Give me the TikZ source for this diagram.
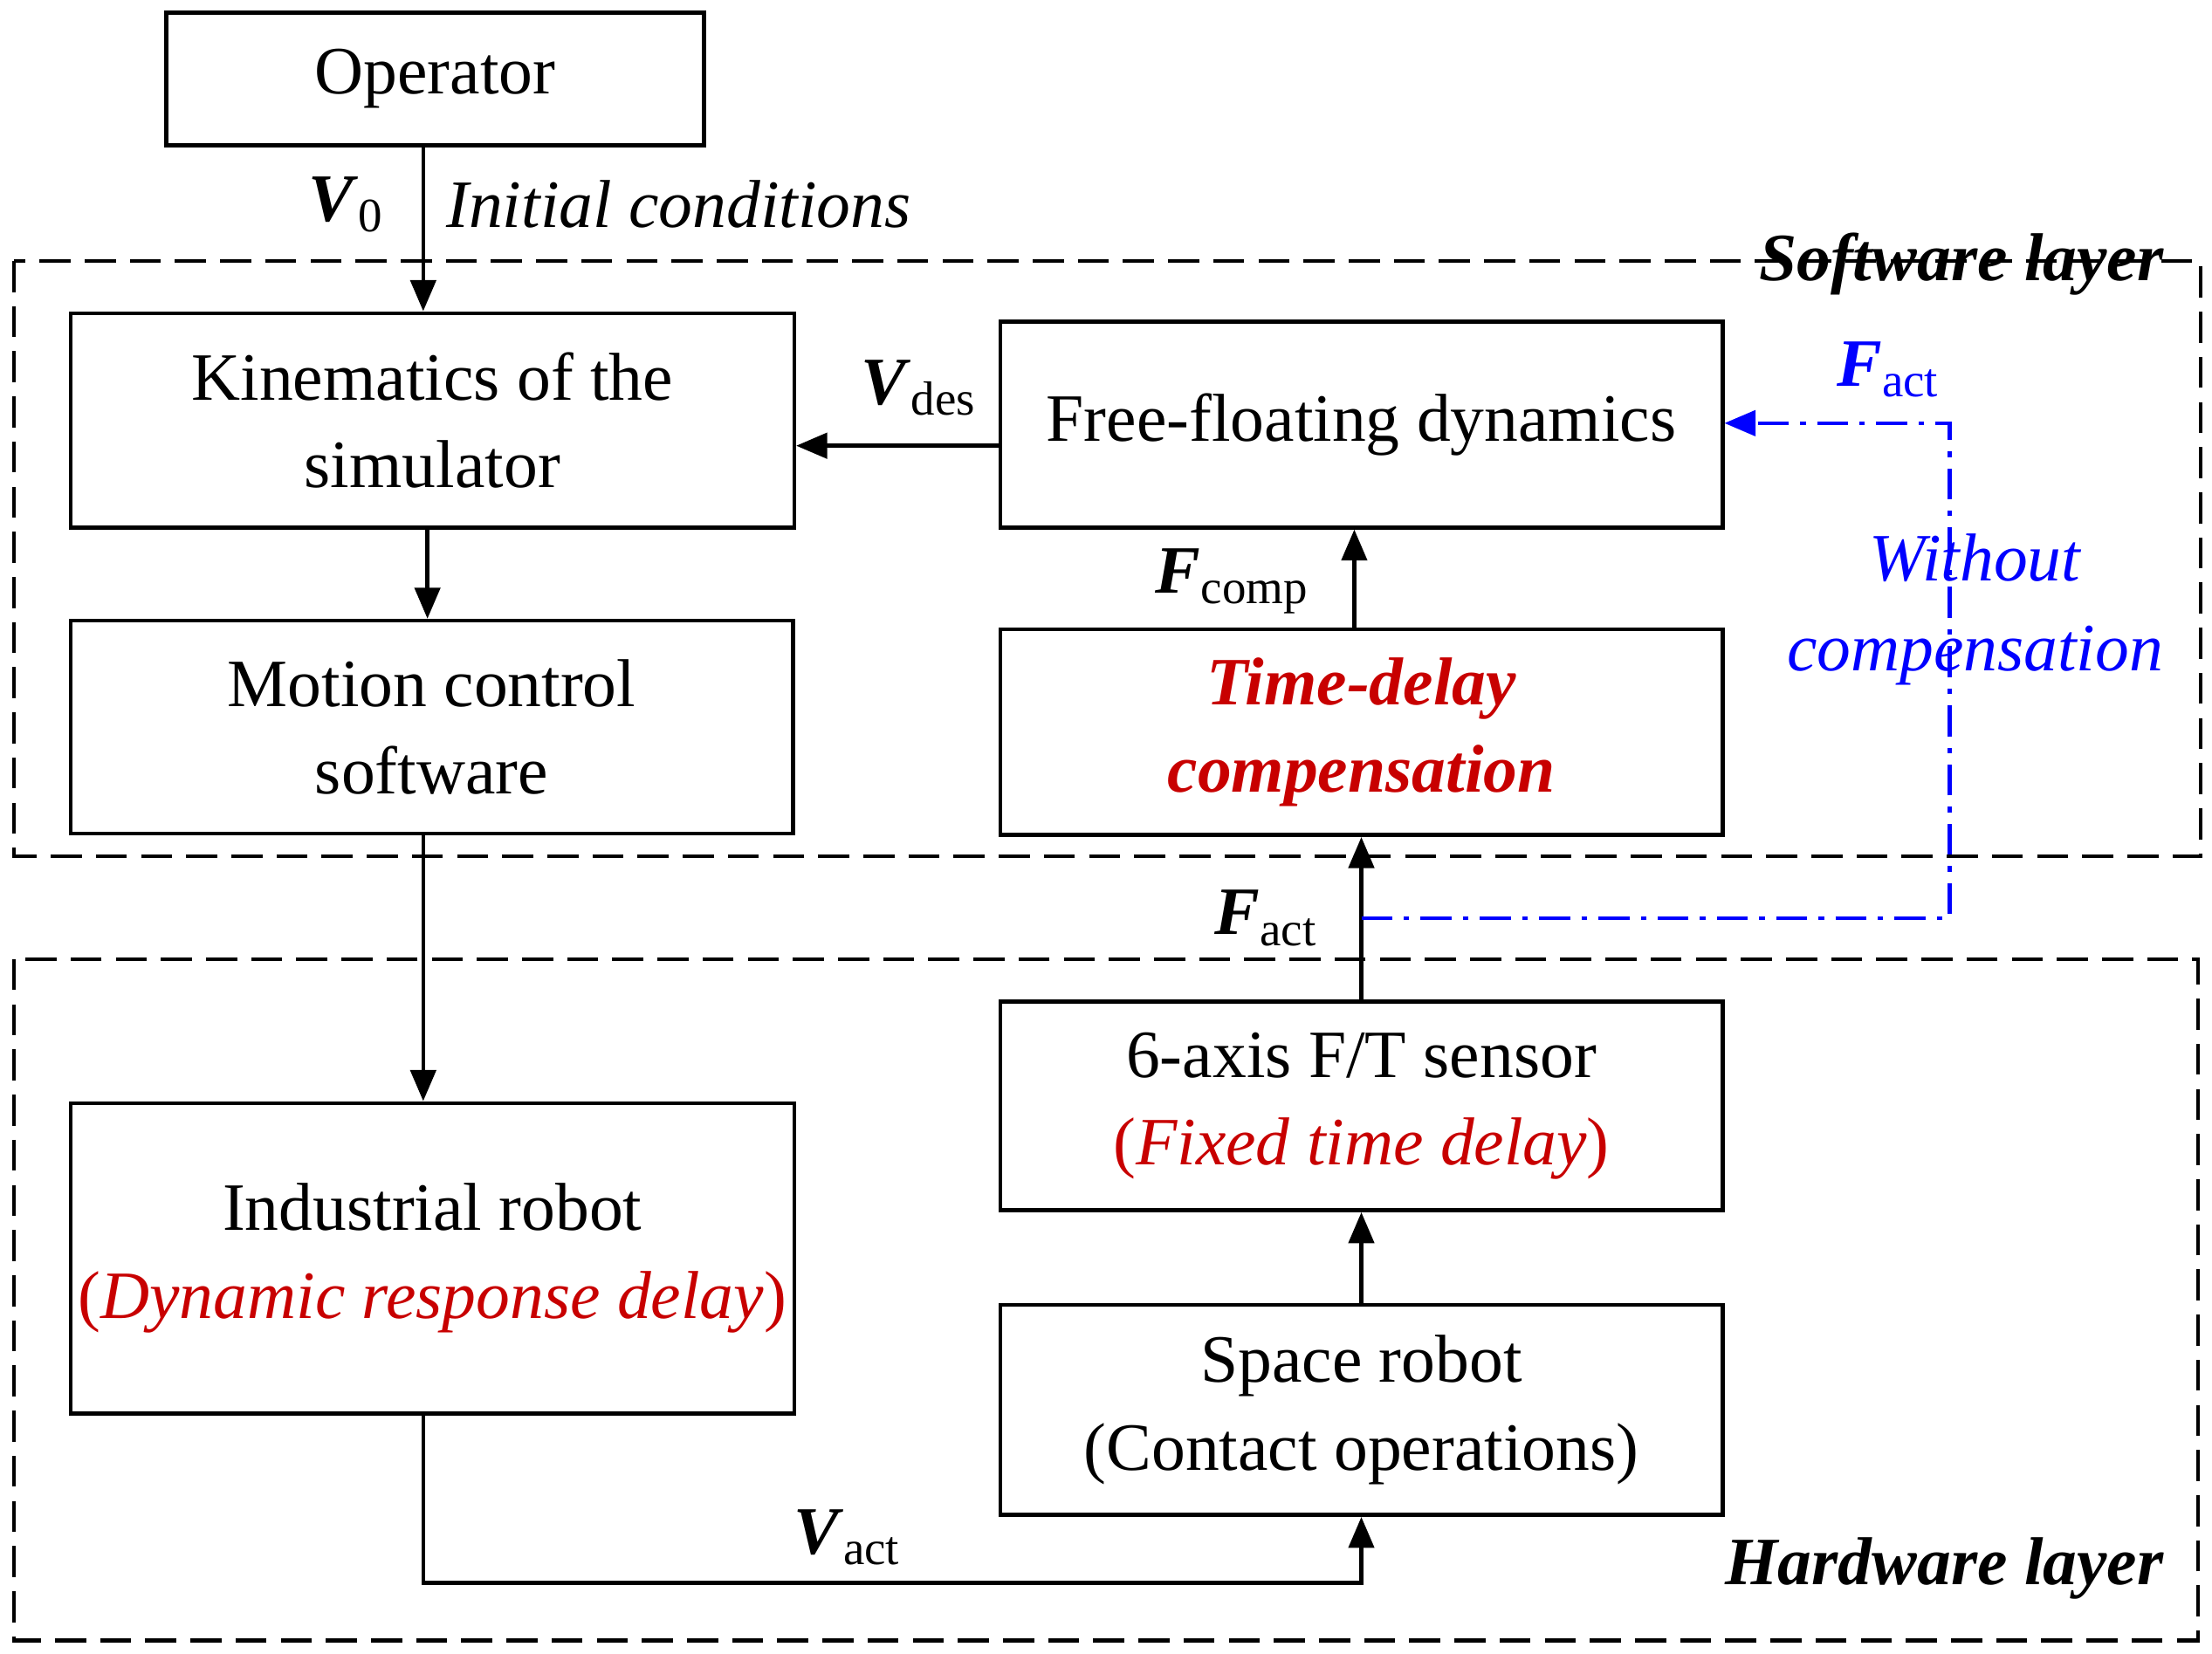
\documentclass[tikz,border=0pt]{standalone}
\usepackage{fontspec}
\setmainfont{Liberation Serif}
\usetikzlibrary{arrows.meta}
\definecolor{dred}{RGB}{200,0,0}
\newcommand{\vsym}[2]{\textbf{\textit{#1}}\raisebox{-0.35ex}{\fontsize{17}{20}\selectfont #2}}
\begin{document}
\begin{tikzpicture}[x=0.5pt,y=-0.5pt,
  box/.style={draw,line width=1.4pt,inner sep=0pt,align=center,font=\fontsize{24}{31}\selectfont},
  arr/.style={line width=1.4pt,-{Triangle[length=11pt,width=9pt]}},
  lay/.style={draw,line width=1.3pt,dash pattern=on 11pt off 5pt},
  lbl/.style={font=\fontsize{24}{29}\selectfont,inner sep=0pt}]
\useasboundingbox (0,0) rectangle (1568,1172);
\draw[lay] (10,185) rectangle (1560,607);
\draw[lay] (10,680) rectangle (1558,1163);
\node[box,minimum width=190.5pt,minimum height=47pt] (op) at (308.5,56) {Operator};
\node[box,minimum width=256.5pt,minimum height=76pt] (kin) at (306.5,298) {Kinematics of the\\simulator};
\node[box,minimum width=256pt,minimum height=75.5pt] (mot) at (306,515.5) {Motion control\\software};
\node[box,minimum width=256pt,minimum height=73pt] (ffd) at (965,301) {Free-floating dynamics};
\node[box,minimum width=256pt,minimum height=73pt,font=\fontsize{24}{31}\selectfont\bfseries\itshape,text=dred] (tdc) at (965,519) {Time-delay\\compensation};
\node[box,minimum width=256pt,minimum height=74pt] (ft) at (965,784) {6-axis F/T sensor\\{\color{dred}(\textit{Fixed time delay})}};
\node[box,minimum width=256pt,minimum height=74.5pt] (sr) at (965,999.5) {Space robot\\(Contact operations)};
\node[box,minimum width=256.5pt,minimum height=110pt] (ir) at (306.5,892) {Industrial robot\\{\color{dred}(\textit{Dynamic response delay})}};
% arrows
\draw[arr] (op.south -| 300,0) -- (kin.north -| 300,0);
\draw[arr] (ffd.west |- 0,316) -- (kin.east |- 0,316);
\draw[arr] (kin.south -| 303,0) -- (mot.north -| 303,0);
\draw[arr] (mot.south -| 300,0) -- (ir.north -| 300,0);
\coordinate (c1) at (300,1122);
\coordinate (c2) at (965,1122);
\draw[arr] (ir.south -| c1) -- (c1) -- (c2) -- (sr.south -| c2);
\draw[arr] (sr.north -| 965,0) -- (ft.south -| 965,0);
\draw[arr] (ft.north -| 965,0) -- (tdc.south -| 965,0);
\draw[arr] (tdc.north -| 960,0) -- (ffd.south -| 960,0);
\coordinate (b0) at (965,651);
\coordinate (b1) at (1382,651);
\coordinate (b2) at (1382,300);
\draw[blue,line width=1.3pt,dash pattern=on 11pt off 4pt on 2pt off 4pt,-{Triangle[length=11pt,width=9pt]}] (b0) -- (b1) -- (b2) -- (ffd.east |- b2);
% labels
\node[lbl] (v0) at (245,145) {\vsym{V}{0}};
\node[lbl,anchor=west] (ic) at (316,145) {\textit{Initial conditions}};
\node[lbl] (vd) at (651,275) {\vsym{V}{des}};
\node[lbl] (fc) at (873,412) {\vsym{F}{comp}};
\node[lbl] (fa) at (897,651) {\vsym{F}{act}};
\node[lbl] (va) at (600,1090) {\vsym{V}{act}};
\node[lbl,text=blue] (fb) at (1338,262) {\vsym{F}{act}};
\node[lbl,text=blue,align=center,font=\fontsize{24}{32}\selectfont\itshape] (wc) at (1400,432) {Without\\compensation};
\node[lbl,anchor=east,font=\fontsize{24}{29}\selectfont\bfseries\itshape] (sl) at (1534,187) {Software layer};
\node[lbl,anchor=east,font=\fontsize{24}{29}\selectfont\bfseries\itshape] (hl) at (1534,1112) {Hardware layer};
\end{tikzpicture}
\end{document}
